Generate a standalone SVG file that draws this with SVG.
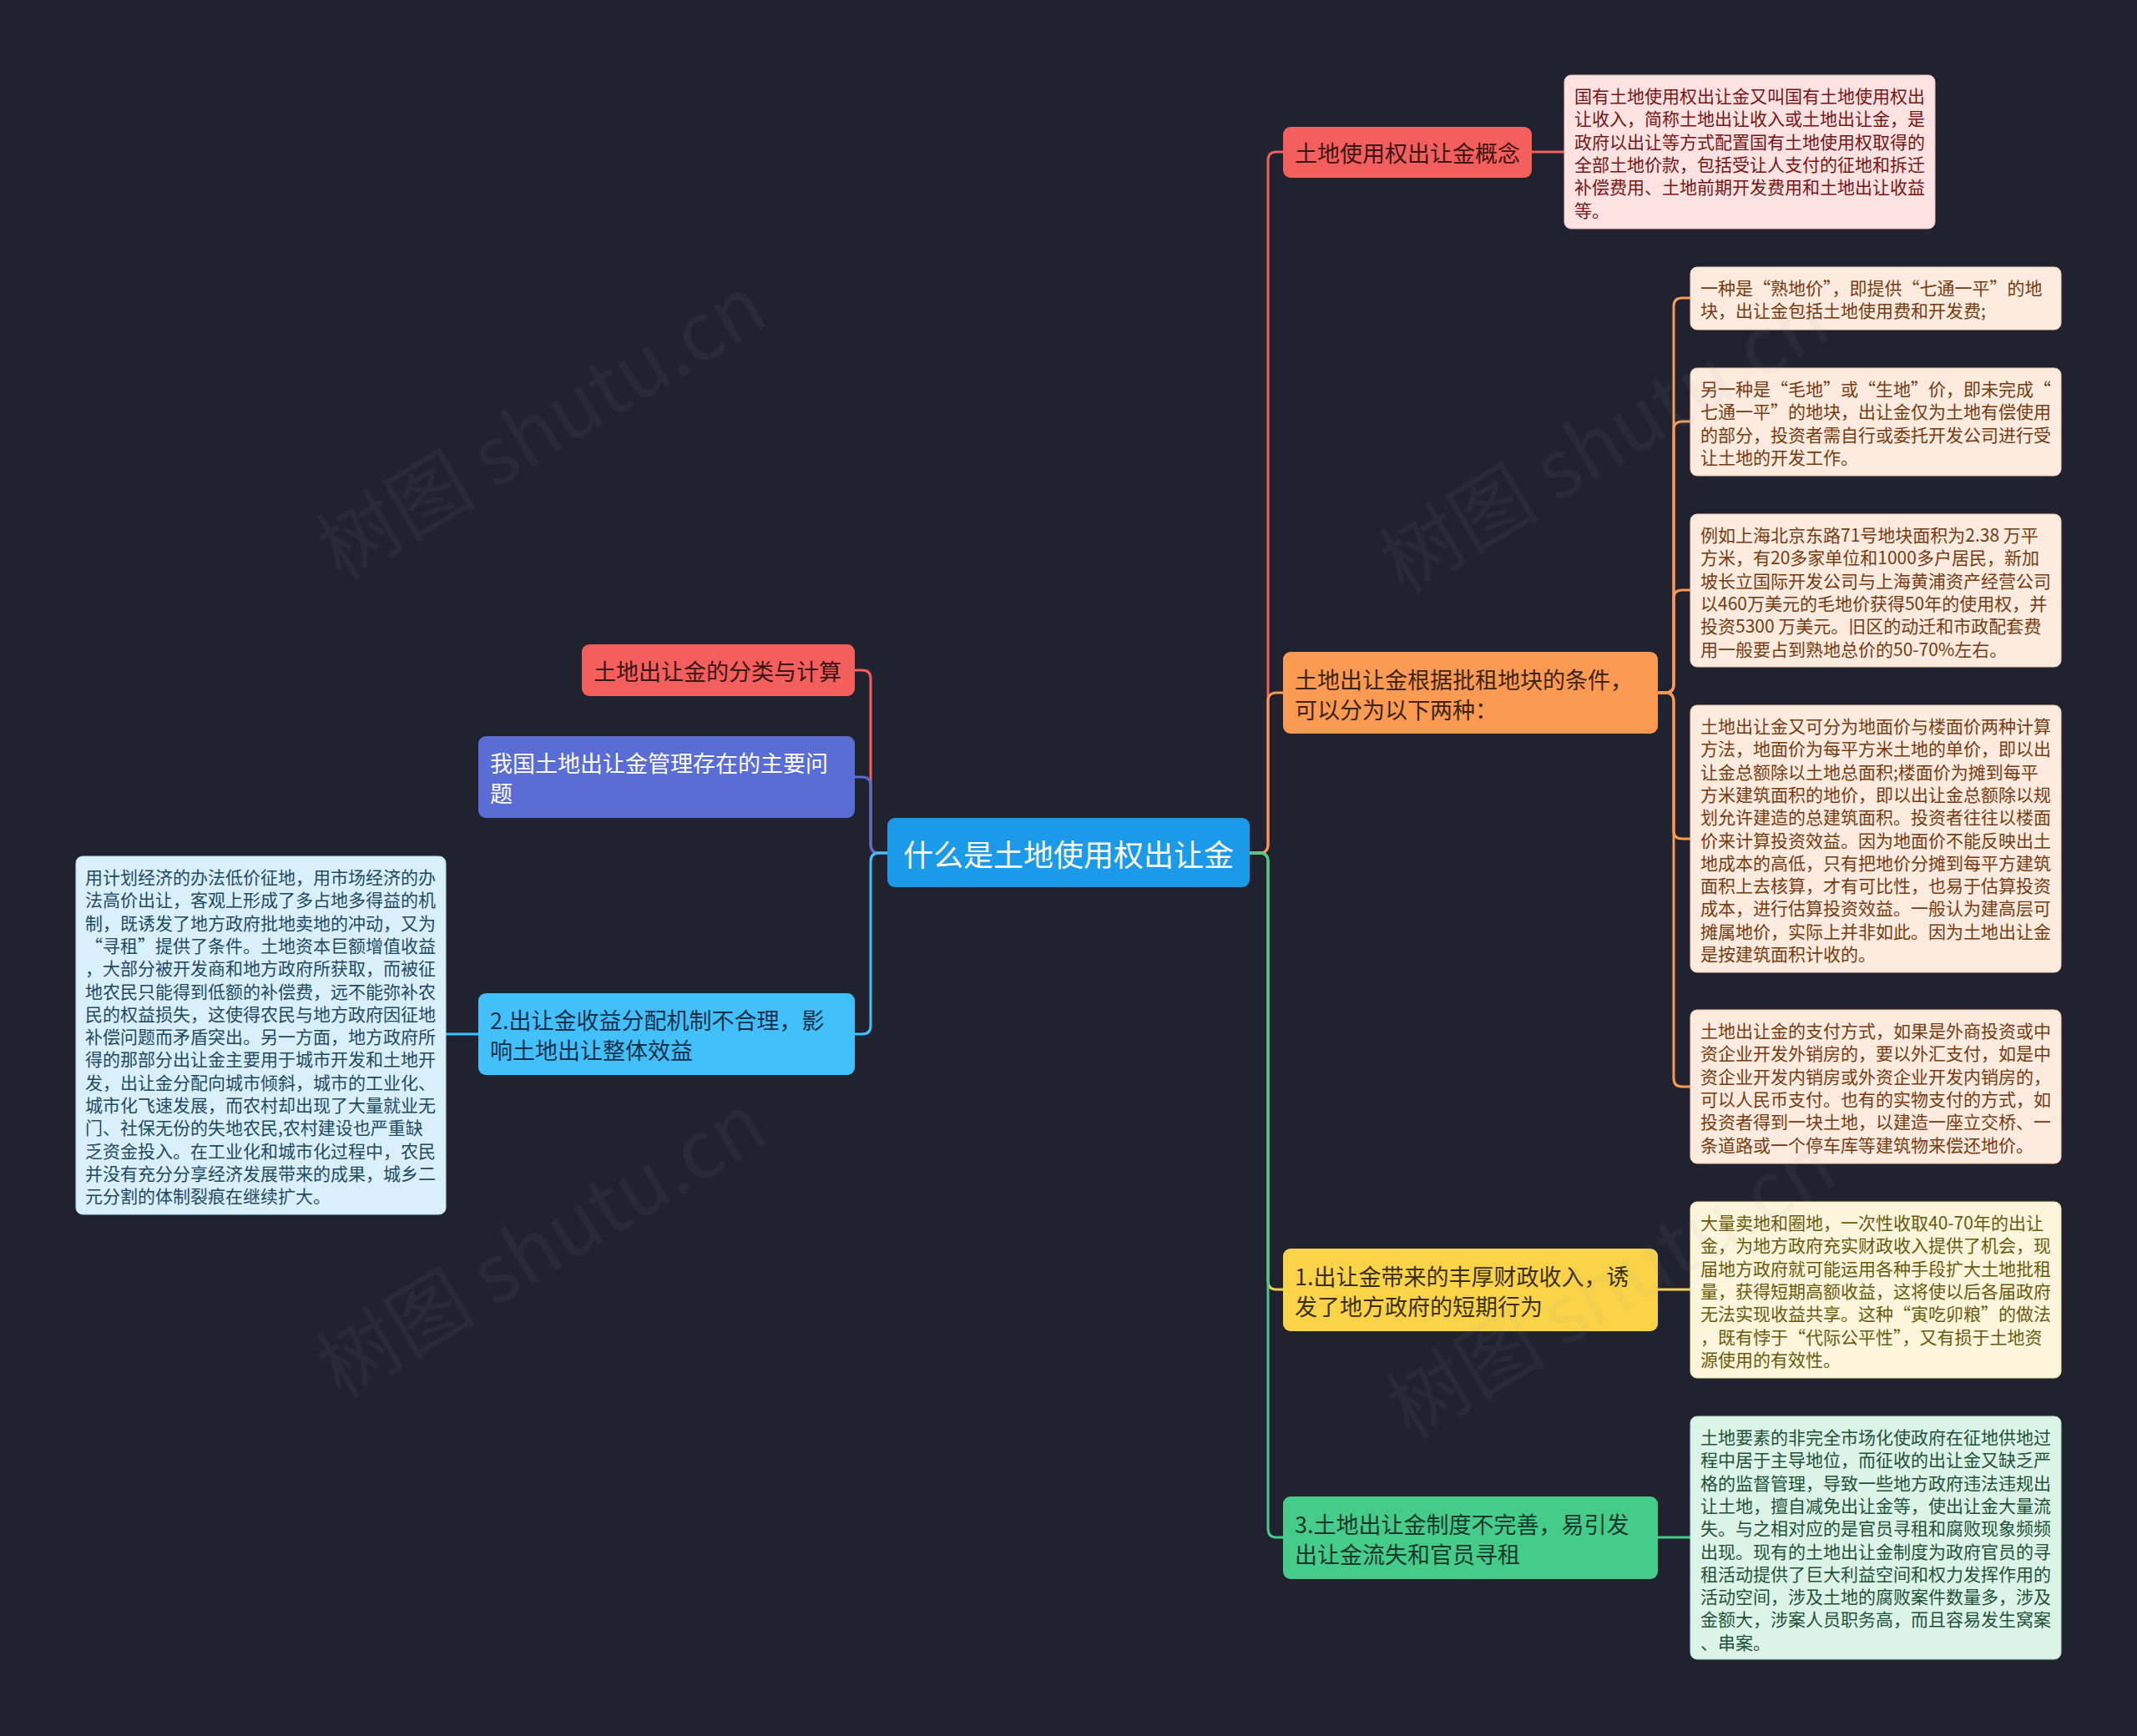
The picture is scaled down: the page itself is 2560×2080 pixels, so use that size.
<svg xmlns="http://www.w3.org/2000/svg" width="2560" height="2080" viewBox="0 0 2560 2080">
<style>
text{font-family:"Noto Sans CJK SC","Noto Sans",sans-serif;dominant-baseline:central}
.c{fill:none;stroke-width:3;stroke-linecap:round;stroke-linejoin:round}
.m{font-size:27px}
.l{font-size:21px}
.wm{font-size:96px;fill:#9aa0ac;fill-opacity:0.07;font-family:"Noto Sans CJK SC",sans-serif}
</style>
<rect x="0" y="0" width="2560" height="2080" fill="#20232f"/>

<g id="connectors">
  <!-- left side -->
  <path class="c" stroke="#f25f5c" d="M1063,1022 H1053 Q1043,1022 1043,1012 V813 Q1043,803 1033,803 H1024"/>
  <path class="c" stroke="#5a6dd5" d="M1063,1022 H1053 Q1043,1022 1043,1012 V941 Q1043,931 1033,931 H1024"/>
  <path class="c" stroke="#42c0fb" d="M1063,1022 H1053 Q1043,1022 1043,1032 V1229 Q1043,1239 1033,1239 H1024"/>
  <path class="c" stroke="#42c0fb" d="M573,1239 H534"/>
  <!-- right side -->
  <path class="c" stroke="#f25f5c" d="M1497,1022 H1509 Q1519,1022 1519,1012 V192 Q1519,182 1529,182 H1537"/>
  <path class="c" stroke="#fb9a52" d="M1497,1022 H1509 Q1519,1022 1519,1012 V840 Q1519,830 1529,830 H1537"/>
  <path class="c" stroke="#fad348" d="M1497,1022 H1509 Q1519,1022 1519,1032 V1535 Q1519,1545 1529,1545 H1537"/>
  <path class="c" stroke="#45cc8a" d="M1497,1022 H1509 Q1519,1022 1519,1032 V1832 Q1519,1842 1529,1842 H1537"/>
  <path class="c" stroke="#f25f5c" d="M1835,182 H1874"/>
  <path class="c" stroke="#fad348" d="M1986,1545 H2025"/>
  <path class="c" stroke="#45cc8a" d="M1986,1842 H2025"/>
  <!-- orange leaves -->
  <path class="c" stroke="#fb9a52" d="M1986,830 H1995 Q2005,830 2005,820 V367 Q2005,357 2015,357 H2025"/>
  <path class="c" stroke="#fb9a52" d="M1986,830 H1995 Q2005,830 2005,820 V515 Q2005,505 2015,505 H2025"/>
  <path class="c" stroke="#fb9a52" d="M1986,830 H1995 Q2005,830 2005,820 V717 Q2005,707 2015,707 H2025"/>
  <path class="c" stroke="#fb9a52" d="M1986,830 H1995 Q2005,830 2005,840 V995 Q2005,1005 2015,1005 H2025"/>
  <path class="c" stroke="#fb9a52" d="M1986,830 H1995 Q2005,830 2005,840 V1292 Q2005,1302 2015,1302 H2025"/>
</g>

<g id="root">
  <rect x="1063" y="980" width="434" height="83" rx="9" fill="#1a9ae8"/>
  <text x="1280" y="1022" font-size="36" fill="#ffffff" text-anchor="middle">什么是土地使用权出让金</text>
</g>

<g id="n-fenlei">
  <rect x="697" y="772" width="327" height="62" rx="9" fill="#f25f5c"/>
  <text class="m" x="711" y="803" fill="#3d1414">土地出让金的分类与计算</text>
</g>

<g id="n-wenti">
  <rect x="573" y="882" width="451" height="98" rx="9" fill="#5a6dd5"/>
  <text class="m" x="587" y="913" fill="#ffffff">我国土地出让金管理存在的主要问</text>
  <text class="m" x="587" y="949" fill="#ffffff">题</text>
</g>

<g id="n-fenpei">
  <rect x="573" y="1190" width="451" height="98" rx="9" fill="#42c0fb"/>
  <text class="m" x="587" y="1221" fill="#16304a">2.出让金收益分配机制不合理，影</text>
  <text class="m" x="587" y="1257" fill="#16304a">响土地出让整体效益</text>
</g>

<g id="leaf-fenpei">
  <rect x="91" y="1026" width="443" height="429" rx="8" fill="#d9f0fb" stroke="#b8def2" stroke-width="1"/>
  <g class="l" fill="#1f4a66">
    <text x="102" y="1050">用计划经济的办法低价征地，用市场经济的办</text>
    <text x="102" y="1077.3">法高价出让，客观上形成了多占地多得益的机</text>
    <text x="102" y="1104.6">制，既诱发了地方政府批地卖地的冲动，又为</text>
    <text x="102" y="1131.9">“寻租”提供了条件。土地资本巨额增值收益</text>
    <text x="102" y="1159.2">，大部分被开发商和地方政府所获取，而被征</text>
    <text x="102" y="1186.5">地农民只能得到低额的补偿费，远不能弥补农</text>
    <text x="102" y="1213.8">民的权益损失，这使得农民与地方政府因征地</text>
    <text x="102" y="1241.1">补偿问题而矛盾突出。另一方面，地方政府所</text>
    <text x="102" y="1268.4">得的那部分出让金主要用于城市开发和土地开</text>
    <text x="102" y="1295.7">发，出让金分配向城市倾斜，城市的工业化、</text>
    <text x="102" y="1323">城市化飞速发展，而农村却出现了大量就业无</text>
    <text x="102" y="1350.3">门、社保无份的失地农民,农村建设也严重缺</text>
    <text x="102" y="1377.6">乏资金投入。在工业化和城市化过程中，农民</text>
    <text x="102" y="1404.9">并没有充分分享经济发展带来的成果，城乡二</text>
    <text x="102" y="1432.2">元分割的体制裂痕在继续扩大。</text>
  </g>
</g>

<g id="n-gainian">
  <rect x="1537" y="152" width="298" height="61" rx="9" fill="#f25f5c"/>
  <text class="m" x="1551" y="182" fill="#3d1414">土地使用权出让金概念</text>
</g>

<g id="leaf-gainian">
  <rect x="1874" y="90" width="444" height="184" rx="8" fill="#fde2e2" stroke="#f5bcbc" stroke-width="1"/>
  <g class="l" fill="#7a1414">
    <text x="1886" y="114">国有土地使用权出让金又叫国有土地使用权出</text>
    <text x="1886" y="141.3">让收入，简称土地出让收入或土地出让金，是</text>
    <text x="1886" y="168.6">政府以出让等方式配置国有土地使用权取得的</text>
    <text x="1886" y="195.9">全部土地价款，包括受让人支付的征地和拆迁</text>
    <text x="1886" y="223.2">补偿费用、土地前期开发费用和土地出让收益</text>
    <text x="1886" y="250.5">等。</text>
  </g>
</g>

<g id="n-liangzhong">
  <rect x="1537" y="781" width="449" height="98" rx="9" fill="#fb9a52"/>
  <text class="m" x="1551" y="813" fill="#3d2410">土地出让金根据批租地块的条件，</text>
  <text class="m" x="1551" y="849" fill="#3d2410">可以分为以下两种：</text>
</g>

<g id="leaf-shudi">
  <rect x="2025" y="320" width="444" height="75" rx="8" fill="#fdebdf" stroke="#f5cfb4" stroke-width="1"/>
  <g class="l" fill="#7a3a10">
    <text x="2037" y="344">一种是“熟地价”，即提供“七通一平”的地</text>
    <text x="2037" y="371.3">块，出让金包括土地使用费和开发费;</text>
  </g>
</g>

<g id="leaf-maodi">
  <rect x="2025" y="441" width="444" height="129" rx="8" fill="#fdebdf" stroke="#f5cfb4" stroke-width="1"/>
  <g class="l" fill="#7a3a10">
    <text x="2037" y="465">另一种是“毛地”或“生地”价，即未完成“</text>
    <text x="2037" y="492.3">七通一平”的地块，出让金仅为土地有偿使用</text>
    <text x="2037" y="519.6">的部分，投资者需自行或委托开发公司进行受</text>
    <text x="2037" y="546.9">让土地的开发工作。</text>
  </g>
</g>

<g id="leaf-liru">
  <rect x="2025" y="616" width="444" height="183" rx="8" fill="#fdebdf" stroke="#f5cfb4" stroke-width="1"/>
  <g class="l" fill="#7a3a10">
    <text x="2037" y="640">例如上海北京东路71号地块面积为2.38 万平</text>
    <text x="2037" y="667.3">方米，有20多家单位和1000多户居民，新加</text>
    <text x="2037" y="694.6">坡长立国际开发公司与上海黄浦资产经营公司</text>
    <text x="2037" y="721.9">以460万美元的毛地价获得50年的使用权，并</text>
    <text x="2037" y="749.2">投资5300 万美元。旧区的动迁和市政配套费</text>
    <text x="2037" y="776.5">用一般要占到熟地总价的50-70%左右。</text>
  </g>
</g>

<g id="leaf-jisuan">
  <rect x="2025" y="845" width="444" height="320" rx="8" fill="#fdebdf" stroke="#f5cfb4" stroke-width="1"/>
  <g class="l" fill="#7a3a10">
    <text x="2037" y="869">土地出让金又可分为地面价与楼面价两种计算</text>
    <text x="2037" y="896.3">方法，地面价为每平方米土地的单价，即以出</text>
    <text x="2037" y="923.6">让金总额除以土地总面积;楼面价为摊到每平</text>
    <text x="2037" y="950.9">方米建筑面积的地价，即以出让金总额除以规</text>
    <text x="2037" y="978.2">划允许建造的总建筑面积。投资者往往以楼面</text>
    <text x="2037" y="1005.5">价来计算投资效益。因为地面价不能反映出土</text>
    <text x="2037" y="1032.8">地成本的高低，只有把地价分摊到每平方建筑</text>
    <text x="2037" y="1060.1">面积上去核算，才有可比性，也易于估算投资</text>
    <text x="2037" y="1087.4">成本，进行估算投资效益。一般认为建高层可</text>
    <text x="2037" y="1114.7">摊属地价，实际上并非如此。因为土地出让金</text>
    <text x="2037" y="1142">是按建筑面积计收的。</text>
  </g>
</g>

<g id="leaf-zhifu">
  <rect x="2025" y="1210" width="444" height="184" rx="8" fill="#fdebdf" stroke="#f5cfb4" stroke-width="1"/>
  <g class="l" fill="#7a3a10">
    <text x="2037" y="1234">土地出让金的支付方式，如果是外商投资或中</text>
    <text x="2037" y="1261.3">资企业开发外销房的，要以外汇支付，如是中</text>
    <text x="2037" y="1288.6">资企业开发内销房或外资企业开发内销房的，</text>
    <text x="2037" y="1315.9">可以人民币支付。也有的实物支付的方式，如</text>
    <text x="2037" y="1343.2">投资者得到一块土地，以建造一座立交桥、一</text>
    <text x="2037" y="1370.5">条道路或一个停车库等建筑物来偿还地价。</text>
  </g>
</g>

<g id="n-caizheng">
  <rect x="1537" y="1496" width="449" height="99" rx="9" fill="#fad348"/>
  <text class="m" x="1551" y="1528" fill="#3a3010">1.出让金带来的丰厚财政收入，诱</text>
  <text class="m" x="1551" y="1564" fill="#3a3010">发了地方政府的短期行为</text>
</g>

<g id="leaf-caizheng">
  <rect x="2025" y="1440" width="444" height="211" rx="8" fill="#fdf6dc" stroke="#f3e2a6" stroke-width="1"/>
  <g class="l" fill="#6b5a0c">
    <text x="2037" y="1464">大量卖地和圈地，一次性收取40-70年的出让</text>
    <text x="2037" y="1491.3">金，为地方政府充实财政收入提供了机会，现</text>
    <text x="2037" y="1518.6">届地方政府就可能运用各种手段扩大土地批租</text>
    <text x="2037" y="1545.9">量，获得短期高额收益，这将使以后各届政府</text>
    <text x="2037" y="1573.2">无法实现收益共享。这种“寅吃卯粮”的做法</text>
    <text x="2037" y="1600.5">，既有悖于“代际公平性”，又有损于土地资</text>
    <text x="2037" y="1627.8">源使用的有效性。</text>
  </g>
</g>

<g id="n-zhidu">
  <rect x="1537" y="1793" width="449" height="99" rx="9" fill="#45cc8a"/>
  <text class="m" x="1551" y="1825" fill="#16382a">3.土地出让金制度不完善，易引发</text>
  <text class="m" x="1551" y="1861" fill="#16382a">出让金流失和官员寻租</text>
</g>

<g id="leaf-zhidu">
  <rect x="2025" y="1697" width="444" height="291" rx="8" fill="#dcf3e8" stroke="#b4e2cb" stroke-width="1"/>
  <g class="l" fill="#1f5238">
    <text x="2037" y="1721">土地要素的非完全市场化使政府在征地供地过</text>
    <text x="2037" y="1748.3">程中居于主导地位，而征收的出让金又缺乏严</text>
    <text x="2037" y="1775.6">格的监督管理，导致一些地方政府违法违规出</text>
    <text x="2037" y="1802.9">让土地，擅自减免出让金等，使出让金大量流</text>
    <text x="2037" y="1830.2">失。与之相对应的是官员寻租和腐败现象频频</text>
    <text x="2037" y="1857.5">出现。现有的土地出让金制度为政府官员的寻</text>
    <text x="2037" y="1884.8">租活动提供了巨大利益空间和权力发挥作用的</text>
    <text x="2037" y="1912.1">活动空间，涉及土地的腐败案件数量多，涉及</text>
    <text x="2037" y="1939.4">金额大，涉案人员职务高，而且容易发生窝案</text>
    <text x="2037" y="1966.7">、串案。</text>
  </g>
</g>

<g id="watermarks">
  <text class="wm" x="645" y="506" text-anchor="middle" transform="rotate(-31 645 506)">树图 shutu.cn</text>
  <text class="wm" x="645" y="1486" text-anchor="middle" transform="rotate(-31 645 1486)">树图 shutu.cn</text>
  <text class="wm" x="1918" y="522" text-anchor="middle" transform="rotate(-31 1918 522)">树图 shutu.cn</text>
  <text class="wm" x="1926" y="1535" text-anchor="middle" transform="rotate(-31 1926 1535)">树图 shutu.cn</text>
</g>
</svg>
